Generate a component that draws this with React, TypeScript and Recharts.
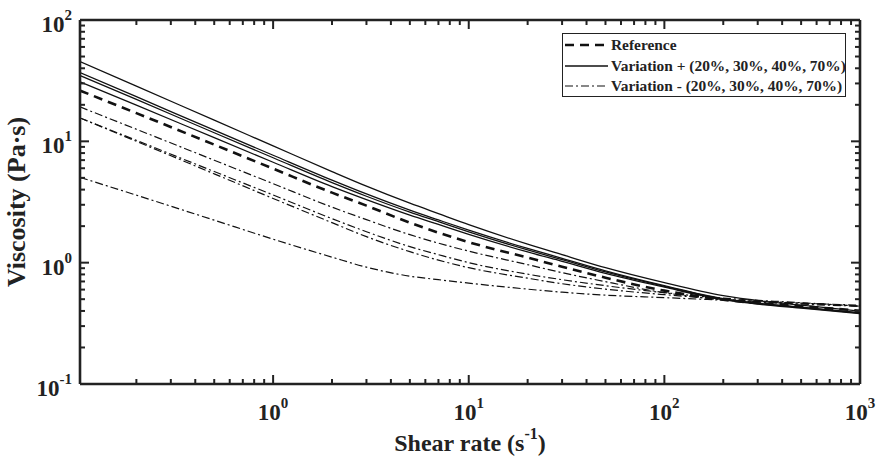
import React from 'react';
import { LineChart, Line, XAxis, YAxis, Legend, ReferenceLine } from 'recharts';

// ---- data ----
const shearRate = [0.103, 0.2, 0.5, 1, 2, 3, 5, 7, 10, 20, 30, 50, 100, 200, 500, 1000];

const reference = [26.2, 17.08, 9.39, 5.956, 3.776, 2.951, 2.136, 1.767, 1.476, 1.1, 0.927, 0.752, 0.588, 0.495, 0.438, 0.402];

const plus70 = [45.4, 28.5, 14.93, 9.17, 5.63, 4.27, 3.09, 2.535, 2.058, 1.42, 1.164, 0.909, 0.684, 0.534, 0.446, 0.398];
const plus40 = [36.85, 23.32, 12.37, 7.68, 4.79, 3.685, 2.709, 2.249, 1.853, 1.31, 1.087, 0.856, 0.646, 0.505, 0.43, 0.387];
const plus30 = [34.8, 22.15, 11.77, 7.32, 4.566, 3.527, 2.609, 2.178, 1.795, 1.273, 1.059, 0.838, 0.638, 0.5, 0.426, 0.384];
const plus20 = [30.89, 19.88, 10.71, 6.725, 4.232, 3.307, 2.464, 2.065, 1.712, 1.225, 1.025, 0.816, 0.628, 0.495, 0.4215, 0.38];

const minus20 = [19.21, 12.58, 6.986, 4.48, 2.868, 2.262, 1.701, 1.448, 1.244, 0.963, 0.827, 0.697, 0.566, 0.495, 0.455, 0.438];
const minus30 = [15.59, 10.19, 5.636, 3.615, 2.305, 1.8, 1.355, 1.164, 1.0, 0.804, 0.724, 0.646, 0.566, 0.51, 0.468, 0.438];
const minus40 = [15.59, 10.0, 5.396, 3.383, 2.136, 1.638, 1.232, 1.049, 0.909, 0.745, 0.671, 0.605, 0.545, 0.5, 0.464, 0.438];
const minus70 = [5.05, 3.6, 2.24, 1.562, 1.11, 0.918, 0.774, 0.724, 0.678, 0.605, 0.571, 0.54, 0.515, 0.491, 0.464, 0.446];

const xTicks = [
  0.2, 0.3, 0.4, 0.5, 0.6, 0.7, 0.8, 0.9, 1,
  2, 3, 4, 5, 6, 7, 8, 9, 10,
  20, 30, 40, 50, 60, 70, 80, 90, 100,
  200, 300, 400, 500, 600, 700, 800, 900, 1000,
];
const yTicks = [
  0.1, 0.2, 0.3, 0.4, 0.5, 0.6, 0.7, 0.8, 0.9, 1,
  2, 3, 4, 5, 6, 7, 8, 9, 10,
  20, 30, 40, 50, 60, 70, 80, 90, 100,
];

const legendLabels = ['Reference', 'Variation + (20%, 30%, 40%, 70%)', 'Variation - (20%, 30%, 40%, 70%)'];
const xTitle = 'Shear rate (s';
const xTitleSup = '-1';
const yTitle = 'Viscosity (Pa\u00b7s)';

const data = shearRate.map((x, i) => ({
  x,
  reference: reference[i],
  plus20: plus20[i],
  plus30: plus30[i],
  plus40: plus40[i],
  plus70: plus70[i],
  minus20: minus20[i],
  minus30: minus30[i],
  minus40: minus40[i],
  minus70: minus70[i],
}));

// ---- styling ----
const W = 876;
const H = 461;
const MARGIN = { top: 20, right: 16, left: 0, bottom: 0 };
const YAXIS_W = 80;
const XAXIS_H = 77;
const PLOT_W = W - MARGIN.left - MARGIN.right - YAXIS_W;
const PLOT_H = H - MARGIN.top - MARGIN.bottom - XAXIS_H;
const INK = '#222';
const FONT = 'Liberation Serif';

const isMajor = (v: number) => {
  const l = Math.log10(v);
  return Math.abs(l - Math.round(l)) < 1e-9;
};

const XTick = (props: any) => {
  const { x, y, payload } = props;
  const v = payload.value;
  const major = isMajor(v);
  const len = major ? 9 : 5;
  const exp = Math.round(Math.log10(v));
  return (
    <g>
      <line x1={x} x2={x} y1={y} y2={y - len} stroke={INK} strokeWidth={2} />
      <line x1={x} x2={x} y1={y - PLOT_H} y2={y - PLOT_H + len} stroke={INK} strokeWidth={2} />
      {major && (
        <text x={x} y={y + 36} textAnchor="middle" style={{ fontFamily: FONT }} fontWeight="bold" fontSize={23} fill={INK}>
          10
          <tspan dy={-12} fontSize={15}>
            {String(exp)}
          </tspan>
        </text>
      )}
    </g>
  );
};

const YTick = (props: any) => {
  const { x, y, payload } = props;
  const v = payload.value;
  const major = isMajor(v);
  const len = major ? 9 : 5;
  const exp = Math.round(Math.log10(v));
  return (
    <g>
      <line x1={x} x2={x + len} y1={y} y2={y} stroke={INK} strokeWidth={2} />
      <line x1={x + PLOT_W} x2={x + PLOT_W - len} y1={y} y2={y} stroke={INK} strokeWidth={2} />
      {major && (
        <text x={x - 8} y={y + 12} textAnchor="end" style={{ fontFamily: FONT }} fontWeight="bold" fontSize={23} fill={INK}>
          10
          <tspan dy={-12} fontSize={15}>
            {String(exp)}
          </tspan>
        </text>
      )}
    </g>
  );
};

const XTitle = (props: any) => {
  const vb = props.viewBox;
  return (
    <text x={vb.x + vb.width / 2} y={vb.y + 67} textAnchor="middle" style={{ fontFamily: FONT }} fontWeight="bold" fontSize={24} fill={INK}>
      <tspan>{xTitle}</tspan>
      <tspan dy={-12} fontSize={16}>{xTitleSup}</tspan>
      <tspan dy={12}>)</tspan>
    </text>
  );
};

const YTitle = (props: any) => {
  const vb = props.viewBox;
  const cx = vb.x + 25;
  const cy = vb.y + vb.height / 2;
  return (
    <text x={cx} y={cy} transform={`rotate(-90, ${cx}, ${cy})`} textAnchor="middle" style={{ fontFamily: FONT }} fontWeight="bold" fontSize={26} fill={INK}>
      {yTitle}
    </text>
  );
};

const legendStyles = [
  { width: 2.6, dash: '9 6' },
  { width: 1.3, dash: undefined },
  { width: 1.2, dash: '8 3 2 3' },
];

const LegendBox = () => (
  <div
    style={{
      width: 284,
      height: 64,
      border: `1.5px solid ${INK}`,
      background: '#fff',
      boxSizing: 'border-box',
      paddingTop: 1,
      fontFamily: FONT,
      fontWeight: 'bold',
      fontSize: 15.4,
      color: INK,
    }}
  >
    {legendLabels.map((label, i) => (
      <div key={label} style={{ display: 'flex', alignItems: 'center', height: 20.5, whiteSpace: 'nowrap' }}>
        <svg width={47} height={20} style={{ display: 'block', flex: 'none' }}>
          <line
            x1={2}
            x2={45}
            y1={10}
            y2={10}
            stroke="#111"
            strokeWidth={legendStyles[i].width}
            strokeDasharray={legendStyles[i].dash}
          />
        </svg>
        <span style={{ marginLeft: 1 }}>{label}</span>
      </div>
    ))}
  </div>
);

export default function App() {
  const solid = { stroke: '#111', strokeWidth: 1.3, dot: false, isAnimationActive: false, type: 'monotone' as const };
  const dashdot = { ...solid, strokeWidth: 1.2, strokeDasharray: '8 3 2 3' };
  return (
    <div style={{ position: 'absolute', left: 0, top: 0, width: W, height: H, background: '#fff' }}>
      <LineChart width={W} height={H} data={data} margin={MARGIN}>
        <XAxis
          dataKey="x"
          type="number"
          scale="log"
          domain={[0.103, 1000]}
          allowDataOverflow
          ticks={xTicks}
          interval={0}
          tickSize={0}
          tickMargin={0}
          tickLine={false}
          tick={<XTick />}
          height={XAXIS_H}
          axisLine={{ stroke: INK, strokeWidth: 2.6 }}
          label={XTitle}
        />
        <YAxis
          type="number"
          scale="log"
          domain={[0.1, 100]}
          allowDataOverflow
          ticks={yTicks}
          interval={0}
          tickSize={0}
          tickMargin={0}
          tickLine={false}
          tick={<YTick />}
          width={YAXIS_W}
          axisLine={{ stroke: INK, strokeWidth: 2.6 }}
          label={YTitle}
        />
        <ReferenceLine y={100} stroke={INK} strokeWidth={2.6} />
        <ReferenceLine x={1000} stroke={INK} strokeWidth={2.6} />

        <Line dataKey="minus70" {...dashdot} />
        <Line dataKey="minus40" {...dashdot} />
        <Line dataKey="minus30" {...dashdot} />
        <Line dataKey="minus20" {...dashdot} />
        <Line dataKey="plus20" {...solid} />
        <Line dataKey="plus30" {...solid} />
        <Line dataKey="plus40" {...solid} />
        <Line dataKey="plus70" {...solid} />
        <Line dataKey="reference" {...solid} strokeWidth={2.6} strokeDasharray="9 6" />

        <Legend
          layout="vertical"
          align="center"
          verticalAlign="middle"
          content={<LegendBox />}
          wrapperStyle={{ left: 562, top: 33, width: 284, height: 64 }}
        />
      </LineChart>
    </div>
  );
}
